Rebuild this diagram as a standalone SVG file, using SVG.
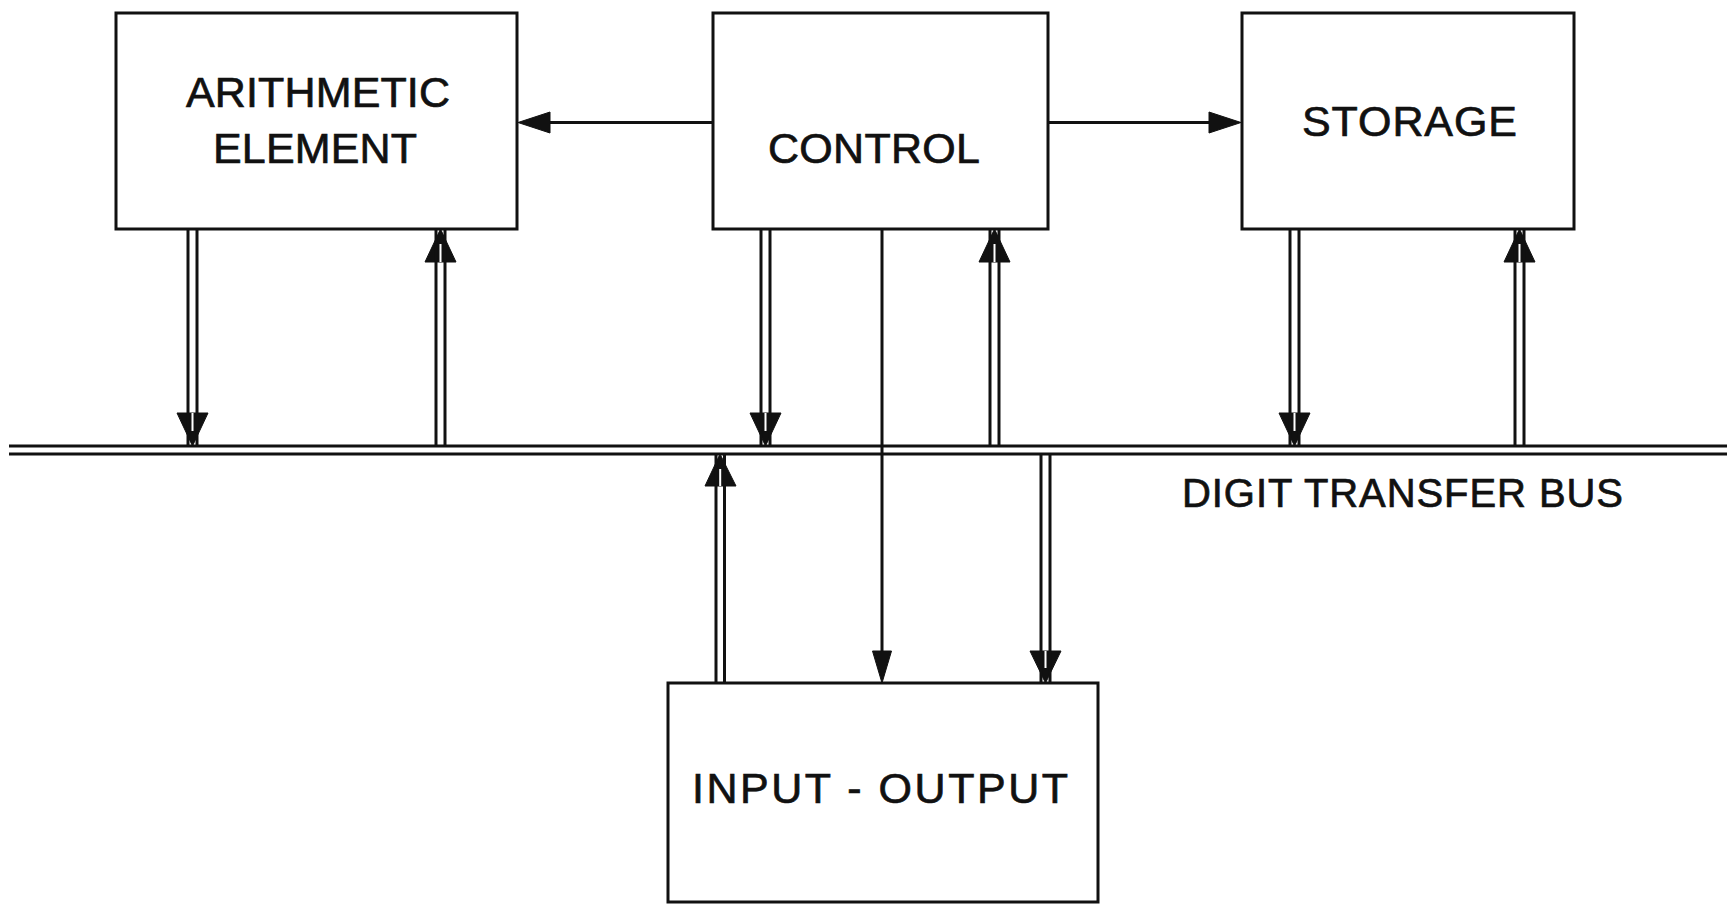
<svg xmlns="http://www.w3.org/2000/svg" width="1730" height="905" viewBox="0 0 1730 905">
<style>
.box{fill:#ffffff;stroke:#111;stroke-width:3}
.ln{stroke:#111;stroke-width:3;fill:none}
.hd{fill:#111;stroke:#111;stroke-width:1;stroke-linejoin:miter}
.gap{fill:#ffffff;stroke:none}
.lbl{font-family:"Liberation Sans",Arial,sans-serif;font-size:43px;fill:#111;stroke:#111;stroke-width:0.7}
.bus{font-family:"Liberation Sans",Arial,sans-serif;font-size:40px;fill:#111;stroke:#111;stroke-width:0.7}
</style>
<rect x="0" y="0" width="1730" height="905" fill="#ffffff"/>
<g id="connectors">
  <g id="digit-transfer-bus">
    <line class="ln" x1="9" y1="446" x2="1727" y2="446"/>
    <line class="ln" x1="9" y1="454" x2="1727" y2="454"/>
    <text class="bus" x="1182" y="507" textLength="441" lengthAdjust="spacing">DIGIT TRANSFER BUS</text>
  </g>
  <line class="ln" x1="713" y1="122.5" x2="540" y2="122.5"/>
  <polygon class="hd" points="518,122.5 550,112 550,133"/>
  <line class="ln" x1="1048" y1="122.5" x2="1220" y2="122.5"/>
  <polygon class="hd" points="1241,122.5 1209,112 1209,133"/>
  <line class="ln" x1="882" y1="229" x2="882" y2="670"/>
  <polygon class="hd" points="882,683 872.5,651 891.5,651"/>

  <!-- Arith down -->
  <polygon class="hd" points="192.5,446 177,413 208,413"/>
  <rect class="gap" x="191.5" y="413" width="2" height="18"/>
  <line class="ln" x1="188" y1="229" x2="188" y2="446"/>
  <line class="ln" x1="197" y1="229" x2="197" y2="446"/>
  <!-- Arith up -->
  <polygon class="hd" points="440.5,229 425,262 456,262"/>
  <rect class="gap" x="439.5" y="244" width="2" height="18"/>
  <line class="ln" x1="436" y1="229" x2="436" y2="446"/>
  <line class="ln" x1="445" y1="229" x2="445" y2="446"/>

  <!-- Control down -->
  <polygon class="hd" points="765.5,446 750,413 781,413"/>
  <rect class="gap" x="764.5" y="413" width="2" height="18"/>
  <line class="ln" x1="761" y1="229" x2="761" y2="446"/>
  <line class="ln" x1="770" y1="229" x2="770" y2="446"/>
  <!-- Control up -->
  <polygon class="hd" points="994.5,229 979,262 1010,262"/>
  <rect class="gap" x="993.5" y="244" width="2" height="18"/>
  <line class="ln" x1="990" y1="229" x2="990" y2="446"/>
  <line class="ln" x1="999" y1="229" x2="999" y2="446"/>

  <!-- Storage down -->
  <polygon class="hd" points="1294.5,446 1279,413 1310,413"/>
  <rect class="gap" x="1293.5" y="413" width="2" height="18"/>
  <line class="ln" x1="1290" y1="229" x2="1290" y2="446"/>
  <line class="ln" x1="1299" y1="229" x2="1299" y2="446"/>
  <!-- Storage up -->
  <polygon class="hd" points="1519.5,229 1504,262 1535,262"/>
  <rect class="gap" x="1518.5" y="244" width="2" height="18"/>
  <line class="ln" x1="1515" y1="229" x2="1515" y2="446"/>
  <line class="ln" x1="1524" y1="229" x2="1524" y2="446"/>

  <!-- IO up -->
  <polygon class="hd" points="720,454 705,486 736,486"/>
  <rect class="gap" x="719.2" y="469" width="2" height="17"/>
  <line class="ln" x1="716" y1="454" x2="716" y2="683"/>
  <line class="ln" x1="724.5" y1="454" x2="724.5" y2="683"/>
  <!-- IO down -->
  <polygon class="hd" points="1045.5,683 1030,651 1061,651"/>
  <rect class="gap" x="1044.5" y="651" width="2" height="17"/>
  <line class="ln" x1="1041" y1="454" x2="1041" y2="683"/>
  <line class="ln" x1="1050" y1="454" x2="1050" y2="683"/>
</g>
<g id="arithmetic-element">
  <rect class="box" x="116" y="13" width="401" height="216"/>
  <text class="lbl" x="186" y="107" textLength="264" lengthAdjust="spacing">ARITHMETIC</text>
  <text class="lbl" x="213" y="163" textLength="204" lengthAdjust="spacing">ELEMENT</text>
</g>
<g id="control">
  <rect class="box" x="713" y="13" width="335" height="216"/>
  <text class="lbl" x="768" y="163" textLength="212" lengthAdjust="spacing">CONTROL</text>
</g>
<g id="storage">
  <rect class="box" x="1242" y="13" width="332" height="216"/>
  <text class="lbl" x="1302" y="136" textLength="215" lengthAdjust="spacing">STORAGE</text>
</g>
<g id="input-output">
  <rect class="box" x="668" y="683" width="430" height="219"/>
  <text class="lbl" x="692" y="803" textLength="376" lengthAdjust="spacing">INPUT - OUTPUT</text>
</g>
</svg>
